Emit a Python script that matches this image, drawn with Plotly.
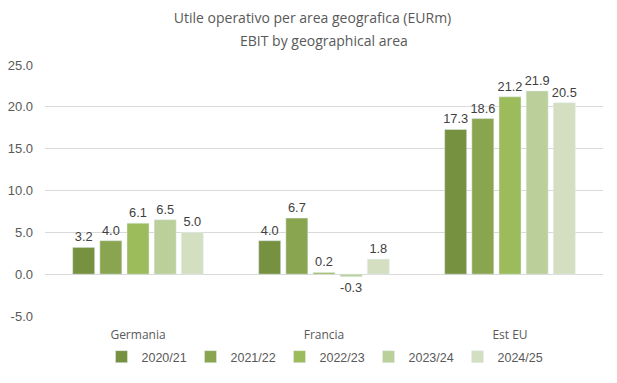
import plotly.graph_objects as go

categories = ["Germania", "Francia", "Est EU"]
series_names = ["2020/21", "2021/22", "2022/23", "2023/24", "2024/25"]
values_2020_21 = [3.2, 4.0, 17.3]
values_2021_22 = [4.0, 6.7, 18.6]
values_2022_23 = [6.1, 0.2, 21.2]
values_2023_24 = [6.5, -0.3, 21.9]
values_2024_25 = [5.0, 1.8, 20.5]
y_ticks = [-5, 0, 5, 10, 15, 20, 25]

series_values = [values_2020_21, values_2021_22, values_2022_23, values_2023_24, values_2024_25]
colors = ["#76913F", "#8AA550", "#9CBB5A", "#BBCF9A", "#D3DFC0"]

# page body has an 8px margin: figure is sized/offset to compensate
OFF = 8
W, H = 617 - OFF, 383 - OFF
L, T = 45 - OFF, 65 - OFF
R, B = 14, 66
PH = H - T - B

fig = go.Figure()
for name, vals, col in zip(series_names, series_values, colors):
    fig.add_trace(go.Bar(
        x=categories, y=vals, name=name, marker_color=col,
        text=[f"{v:.1f}" for v in vals], textposition="outside",
        constraintext="none",
        textfont=dict(family="Liberation Sans, Arial", size=12.8, color="#404040"),
        cliponaxis=False,
    ))

fig.update_layout(
    width=W, height=H,
    margin=dict(l=L, r=R, t=T, b=B),
    paper_bgcolor="white", plot_bgcolor="white",
    barmode="group", bargap=0.27, bargroupgap=0.19,
    title=dict(
        text="Utile operativo per area geografica (EURm)",
        x=0.5, xanchor="center", y=1 - (18 - OFF) / H, yanchor="middle",
        font=dict(family="Open Sans", size=14, color="#595959"),
    ),
    annotations=[dict(
        text="EBIT by geographical area", xref="paper", yref="paper",
        x=0.5, xanchor="center", y=1 + (65 - 40) / PH, yanchor="middle",
        showarrow=False, font=dict(family="Open Sans", size=14, color="#595959"),
    )],
    xaxis=dict(showgrid=False, showline=False, ticks="", automargin=False,
               ticklabelstandoff=10,
               tickfont=dict(family="Open Sans", size=12, color="#595959")),
    yaxis=dict(range=[-5, 25], tickvals=y_ticks, automargin=False,
               ticktext=[f"{v:.1f}" for v in y_ticks],
               showgrid=True, gridcolor="#D9D9D9", gridwidth=1,
               zeroline=False, showline=False, ticks="",
               ticklabelstandoff=11,
               tickfont=dict(family="Liberation Sans, Arial", size=13, color="#595959")),
    legend=dict(orientation="h", x=0.5, xanchor="center", y=-40 / PH, yanchor="middle",
                font=dict(family="Liberation Sans, Arial", size=12.5, color="#595959"),
                itemwidth=30, entrywidth=44, traceorder="normal"),
    showlegend=True,
)
fig.write_html("out.html")
